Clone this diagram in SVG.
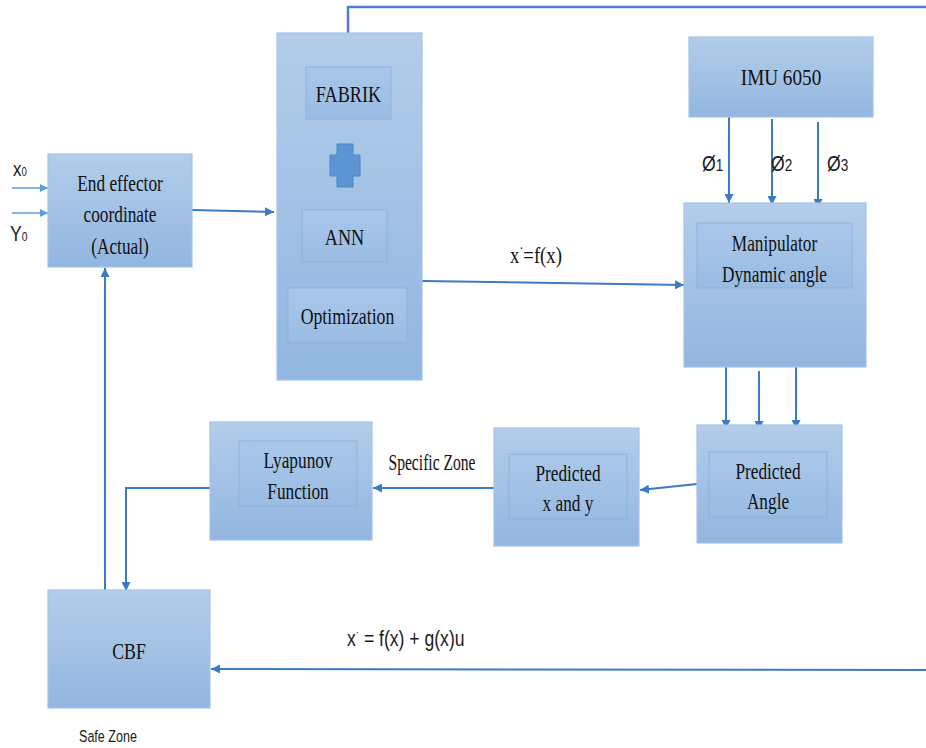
<svg xmlns="http://www.w3.org/2000/svg" width="926" height="748" viewBox="0 0 926 748">
  <defs>
    <linearGradient id="boxFill" x1="0" y1="0" x2="0" y2="1">
      <stop offset="0" stop-color="#b3cdea"/>
      <stop offset="1" stop-color="#92b6e0"/>
    </linearGradient>
    <linearGradient id="innerFill" x1="0" y1="0" x2="0" y2="1">
      <stop offset="0" stop-color="#a9c7e9"/>
      <stop offset="1" stop-color="#9abce3"/>
    </linearGradient>
    <marker id="arrow" markerUnits="userSpaceOnUse" markerWidth="9" markerHeight="9" refX="9" refY="4.5" orient="auto">
      <path d="M0,0 L9,4.5 L0,9 z" fill="#3a7bc6"/>
    </marker>
    <marker id="arrowLight" markerUnits="userSpaceOnUse" markerWidth="8" markerHeight="8" refX="8" refY="4" orient="auto">
      <path d="M0,0 L8,4 L0,8 z" fill="#5b9be0"/>
    </marker>
  </defs>
  <style>
    .box { fill: url(#boxFill); stroke: #a6c3e8; stroke-width: 1.2; }
    .inner { fill: url(#innerFill); stroke: #8db1dc; stroke-width: 1; }
    .tr { font-family: 'Liberation Serif', 'Times New Roman', Times, serif; font-size: 24px; fill: #111111; text-anchor: middle; }
    .sn { font-family: 'Liberation Sans', Arial, sans-serif; fill: #1b1b1b; }
    .wire { fill: none; stroke: #3a7bc6; stroke-width: 2; }
    .wire-top { fill: none; stroke: #4f7fcc; stroke-width: 2.5; }
    .wire-in { fill: none; stroke: #5b9be0; stroke-width: 1.5; }
  </style>

  <rect width="926" height="748" fill="#ffffff"/>

  <!-- connectors -->
  <g id="connectors">
    <!-- inputs x0, y0 -->
    <line class="wire-in" x1="12" y1="188" x2="48" y2="188" marker-end="url(#arrowLight)"/>
    <line class="wire-in" x1="12" y1="213" x2="48" y2="213" marker-end="url(#arrowLight)"/>
    <!-- end effector -> solver block -->
    <line class="wire" x1="192" y1="210" x2="274" y2="212" marker-end="url(#arrow)"/>
    <!-- solver top feedback line to right edge -->
    <polyline class="wire-top" points="348,33 348,7 926,7"/>
    <!-- solver -> manipulator -->
    <line class="wire" x1="422" y1="281" x2="684" y2="285" marker-end="url(#arrow)"/>
    <!-- IMU phi outputs -->
    <line class="wire" x1="729" y1="117" x2="729" y2="203" marker-end="url(#arrow)"/>
    <line class="wire" x1="772" y1="119" x2="772" y2="205" marker-end="url(#arrow)"/>
    <line class="wire" x1="818" y1="122" x2="818" y2="208" marker-end="url(#arrow)"/>
    <!-- manipulator -> predicted angle -->
    <line class="wire" x1="726" y1="367" x2="726" y2="429" marker-end="url(#arrow)"/>
    <line class="wire" x1="759" y1="371" x2="759" y2="430" marker-end="url(#arrow)"/>
    <line class="wire" x1="796" y1="367" x2="796" y2="429" marker-end="url(#arrow)"/>
    <!-- predicted angle -> predicted x and y -->
    <line class="wire" x1="697" y1="484" x2="640" y2="490" marker-end="url(#arrow)"/>
    <!-- predicted x and y -> lyapunov -->
    <line class="wire" x1="494" y1="488" x2="373" y2="488" marker-end="url(#arrow)"/>
    <!-- lyapunov -> CBF -->
    <polyline class="wire" points="210,488 126,488 126,591" marker-end="url(#arrow)"/>
    <!-- CBF -> end effector -->
    <line class="wire" x1="105" y1="591" x2="105" y2="268" marker-end="url(#arrow)"/>
    <!-- system dynamics feedback -> CBF -->
    <line class="wire" x1="926" y1="670" x2="211" y2="669" marker-end="url(#arrow)"/>
  </g>

  <!-- End effector coordinate -->
  <g id="end-effector">
    <rect class="box" x="48" y="154" width="144" height="113"/>
    <text class="tr" transform="translate(120,191) scale(0.72,1)">End effector</text>
    <text class="tr" transform="translate(120,222) scale(0.72,1)">coordinate</text>
    <text class="tr" transform="translate(120,254) scale(0.72,1)">(Actual)</text>
  </g>

  <!-- input labels -->
  <g id="input-labels">
    <text class="sn" font-size="21" transform="translate(13,176) scale(0.8,1)">x<tspan font-size="12">0</tspan></text>
    <text class="sn" font-size="22" transform="translate(10,241) scale(0.8,1)">Y<tspan font-size="13">0</tspan></text>
  </g>

  <!-- FABRIK + ANN + Optimization block -->
  <g id="solver">
    <rect class="box" x="277" y="33" width="145" height="347"/>
    <rect class="inner" x="306" y="67" width="85" height="52"/>
    <text class="tr" transform="translate(348.5,102) scale(0.76,1)" font-size="23">FABRIK</text>
    <path d="M337,144 H353 V155 H360 V176 H353 V187 H337 V176 H330 V155 H337 Z" fill="#5c95d4" stroke="#4d86c8" stroke-width="1"/>
    <rect class="inner" x="302" y="210" width="85" height="52"/>
    <text class="tr" transform="translate(344.5,245) scale(0.76,1)" font-size="23">ANN</text>
    <rect class="inner" x="288" y="288" width="119" height="55"/>
    <text class="tr" transform="translate(347.5,324) scale(0.74,1)" font-size="24">Optimization</text>
  </g>

  <!-- f(x) label -->
  <text class="tr" transform="translate(536,263) scale(0.78,1)" font-size="24">x<tspan dy="-10" font-size="15">·</tspan><tspan dy="10">=f(x)</tspan></text>

  <!-- IMU 6050 -->
  <g id="imu">
    <rect class="box" x="689" y="37" width="184" height="80"/>
    <text class="tr" transform="translate(781,85) scale(0.8,1)" font-size="23">IMU 6050</text>
  </g>

  <!-- phi labels -->
  <g id="phi-labels">
    <text class="sn" font-size="22" transform="translate(702,171) scale(0.8,1)">Ø<tspan font-size="17">1</tspan></text>
    <text class="sn" font-size="22" transform="translate(771,171) scale(0.8,1)">Ø<tspan font-size="17">2</tspan></text>
    <text class="sn" font-size="22" transform="translate(827,171) scale(0.8,1)">Ø<tspan font-size="17">3</tspan></text>
  </g>

  <!-- Manipulator dynamic angle -->
  <g id="manipulator">
    <rect class="box" x="684" y="203" width="182" height="164"/>
    <rect class="inner" x="697" y="223" width="155" height="65"/>
    <text class="tr" transform="translate(774.5,251) scale(0.72,1)">Manipulator</text>
    <text class="tr" transform="translate(774.5,282) scale(0.72,1)">Dynamic angle</text>
  </g>

  <!-- Predicted angle -->
  <g id="predicted-angle">
    <rect class="box" x="697" y="425" width="145" height="118"/>
    <rect class="inner" x="709" y="452" width="118" height="65"/>
    <text class="tr" transform="translate(768,479) scale(0.72,1)">Predicted</text>
    <text class="tr" transform="translate(768,509) scale(0.72,1)">Angle</text>
  </g>

  <!-- Predicted x and y -->
  <g id="predicted-xy">
    <rect class="box" x="494" y="428" width="145" height="118"/>
    <rect class="inner" x="509" y="454" width="118" height="65"/>
    <text class="tr" transform="translate(568,481) scale(0.72,1)">Predicted</text>
    <text class="tr" transform="translate(568,511) scale(0.72,1)">x and y</text>
  </g>

  <!-- Specific zone label -->
  <text class="tr" transform="translate(432,470) scale(0.65,1)" font-size="21">Specific Zone</text>

  <!-- Lyapunov function -->
  <g id="lyapunov">
    <rect class="box" x="210" y="422" width="162" height="118"/>
    <rect class="inner" x="239" y="441" width="118" height="65"/>
    <text class="tr" transform="translate(298,468) scale(0.72,1)">Lyapunov</text>
    <text class="tr" transform="translate(298,499) scale(0.72,1)">Function</text>
  </g>

  <!-- CBF -->
  <g id="cbf">
    <rect class="box" x="48" y="590" width="162" height="118"/>
    <text class="tr" transform="translate(129,659) scale(0.74,1)" font-size="24">CBF</text>
  </g>

  <!-- bottom labels -->
  <text class="sn" font-size="22" transform="translate(347,646) scale(0.8,1)">x<tspan dy="-10" font-size="12">·</tspan><tspan dy="10"> = f(x) + g(x)u</tspan></text>
  <text class="sn" font-size="17" text-anchor="middle" transform="translate(108,742) scale(0.74,1)">Safe Zone</text>
</svg>
